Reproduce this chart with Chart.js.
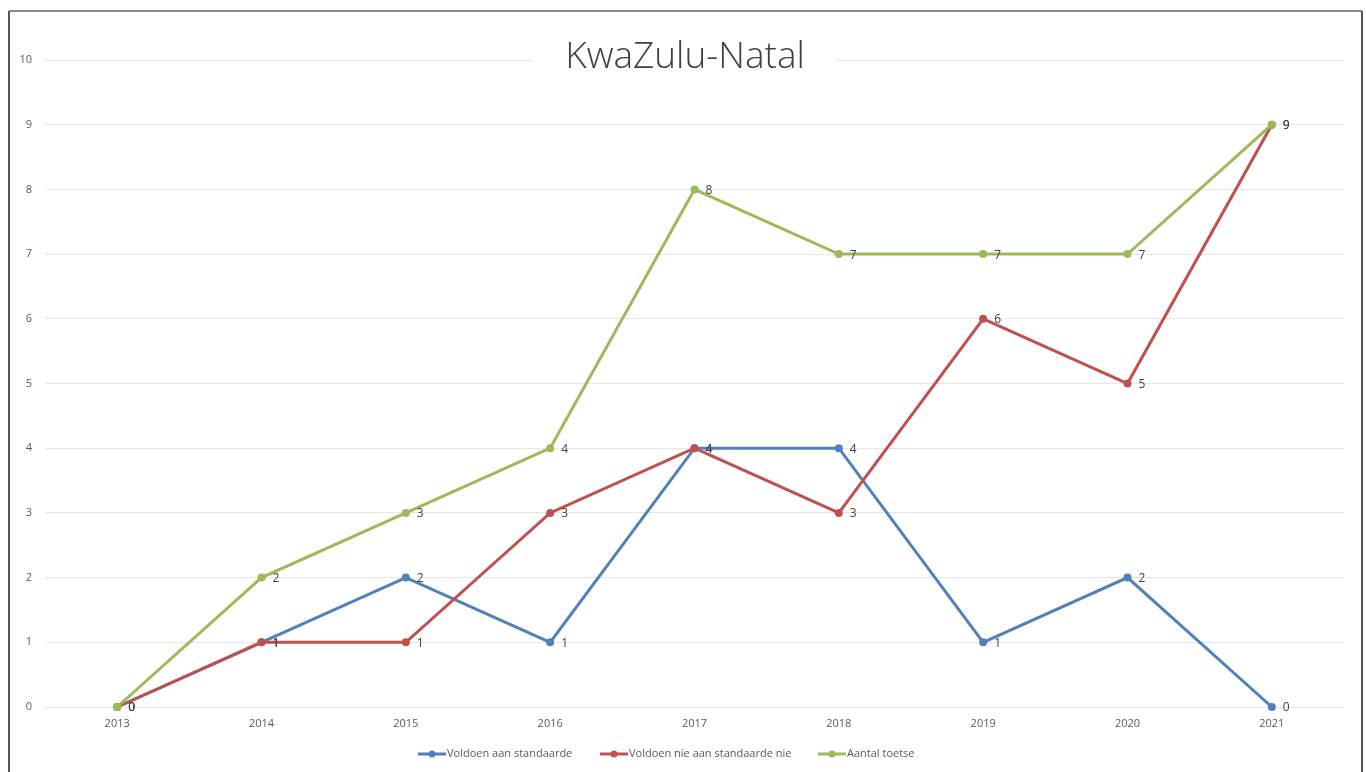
<!DOCTYPE html>
<html><head><meta charset="utf-8">
<script src="https://cdn.jsdelivr.net/npm/chart.js@4/dist/chart.umd.min.js"></script>
<style>html,body{margin:0;padding:0;background:#fff;}#wrap{width:1366px;height:772px;position:relative;}</style>
</head><body><div id="wrap"><canvas id="c" width="1366" height="772"></canvas></div>
<script>
const categories = ['2013','2014','2015','2016','2017','2018','2019','2020','2021'];
const voldoen = [0,1,2,1,4,4,1,2,0];
const nieVoldoen = [0,1,1,3,4,3,6,5,9];
const aantal = [0,2,3,4,8,7,7,7,9];
const seriesNames = ['Voldoen aan standaarde','Voldoen nie aan standaarde nie','Aantal toetse'];
const colors = ['#4F81BD','#C0504D','#9BBB59'];
const titleText = 'KwaZulu-Natal';

const framePlugin = {
  id:'frame',
  beforeDraw(chart){
    const ctx=chart.ctx;
    ctx.save();
    ctx.fillStyle='#fff';ctx.fillRect(0,0,1366,772);
    ctx.lineWidth=2;
    ctx.strokeStyle='#8a8a8a';
    ctx.beginPath();ctx.moveTo(9,11);ctx.lineTo(1362,11);ctx.stroke();
    ctx.strokeStyle='#555';
    ctx.beginPath();ctx.moveTo(9,800);ctx.lineTo(9,11);ctx.stroke();
    ctx.beginPath();ctx.moveTo(1362,11);ctx.lineTo(1362,800);ctx.stroke();
    ctx.restore();
  },
  beforeDatasetsDraw(chart){
    const ctx=chart.ctx;
    ctx.save();
    ctx.fillStyle='#fff';ctx.fillRect(532,40,305,40);
    ctx.font='300 37px "Open Sans", "DejaVu Sans", sans-serif';
    ctx.fillStyle='#404040';ctx.textAlign='center';ctx.textBaseline='middle';
    ctx.fillText(titleText,685,57);
    ctx.restore();
  },
  afterDatasetsDraw(chart){
    const ctx=chart.ctx;
    ctx.save();
    ctx.font='12px "Open Sans", sans-serif';ctx.fillStyle='#404040';
    ctx.textAlign='left';ctx.textBaseline='middle';
    chart.data.datasets.forEach((ds,i)=>{
      const meta=chart.getDatasetMeta(i);
      meta.data.forEach((pt,j)=>{ ctx.fillText(String(ds.data[j]),pt.x+11,pt.y+1); });
    });
    // legend
    const lx=[418,600,818];
    ctx.font='11px "Open Sans", sans-serif';ctx.fillStyle='#595959';
    seriesNames.forEach((n,i)=>{
      const x=lx[i], y=754;
      ctx.strokeStyle=colors[i];ctx.lineWidth=3;
      ctx.beginPath();ctx.moveTo(x,y);ctx.lineTo(x+28,y);ctx.stroke();
      ctx.fillStyle=colors[i];ctx.beginPath();ctx.arc(x+14,y,3.5,0,Math.PI*2);ctx.fill();
      ctx.fillStyle='#595959';ctx.fillText(n,x+29,y);
    });
    ctx.restore();
  }
};

const mk=(label,data,c,order)=>({label,data,order,borderColor:c,backgroundColor:c,borderWidth:3,pointRadius:4,pointHoverRadius:4,pointBorderWidth:0,tension:0,clip:false});

new Chart(document.getElementById('c'),{
  type:'line',
  data:{labels:categories,datasets:[mk(seriesNames[0],voldoen,colors[0],2),mk(seriesNames[1],nieVoldoen,colors[1],1),mk(seriesNames[2],aantal,colors[2],0)]},
  options:{
    responsive:false,animation:false,
    layout:{padding:{top:60,right:22,left:0,bottom:0}},
    plugins:{legend:{display:false},title:{display:false},tooltip:{enabled:false}},
    scales:{
      x:{offset:true,grid:{display:false,drawTicks:false},border:{display:false},
         ticks:{color:'#595959',font:{size:11,family:'"Open Sans", sans-serif'},padding:10,maxRotation:0},
         afterFit(s){s.height=65;}},
      y:{min:0,max:10,grid:{color:'#e6e6e6',drawTicks:false,lineWidth:1},border:{display:false},
         ticks:{stepSize:1,color:'#595959',font:{size:11,family:'"Open Sans", sans-serif'},padding:13},
         afterFit(s){s.width=45;}}
    }
  },
  plugins:[framePlugin]
});
</script></body></html>
